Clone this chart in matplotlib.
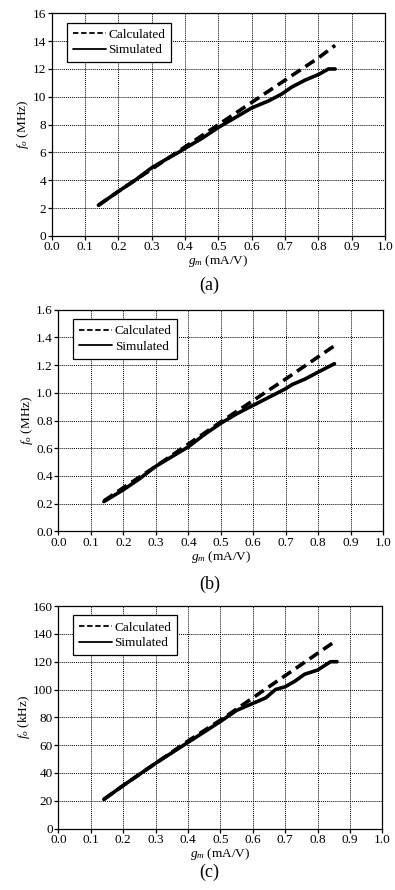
import matplotlib
matplotlib.use("Agg")
import matplotlib.pyplot as plt
from matplotlib.ticker import MultipleLocator, FormatStrFormatter

plt.rcParams['font.family'] = ['Liberation Serif', 'DejaVu Serif']
plt.rcParams['mathtext.fontset'] = 'custom'
plt.rcParams['mathtext.it'] = 'Liberation Serif:italic'
plt.rcParams['mathtext.rm'] = 'Liberation Serif'

# Panel (a)
a_calc_x = [0.14, 0.20, 0.30, 0.40, 0.50, 0.60, 0.70, 0.80, 0.85]
a_calc_y = [2.2, 3.2, 4.8, 6.4, 8.0, 9.6, 11.2, 12.8, 13.7]
a_sim_x = [0.14, 0.20, 0.25, 0.30, 0.35, 0.38, 0.40, 0.45, 0.50, 0.55, 0.60, 0.65, 0.69, 0.72, 0.76, 0.80, 0.83, 0.85]
a_sim_y = [2.2, 3.2, 4.0, 4.9, 5.6, 6.0, 6.3, 7.0, 7.8, 8.5, 9.2, 9.7, 10.2, 10.7, 11.2, 11.6, 12.0, 12.0]

# Panel (b)
b_calc_x = [0.14, 0.20, 0.30, 0.40, 0.50, 0.60, 0.70, 0.80, 0.85]
b_calc_y = [0.22, 0.315, 0.47, 0.63, 0.79, 0.945, 1.10, 1.26, 1.34]
b_sim_x = [0.14, 0.20, 0.25, 0.30, 0.35, 0.40, 0.45, 0.50, 0.55, 0.60, 0.65, 0.70, 0.72, 0.76, 0.80, 0.85]
b_sim_y = [0.215, 0.30, 0.38, 0.47, 0.54, 0.61, 0.70, 0.78, 0.85, 0.91, 0.97, 1.03, 1.06, 1.10, 1.15, 1.21]

# Panel (c)
c_calc_x = [0.14, 0.20, 0.30, 0.40, 0.50, 0.60, 0.70, 0.80, 0.85]
c_calc_y = [21, 31, 47, 63, 78, 94, 110, 126, 134]
c_sim_x = [0.14, 0.20, 0.30, 0.40, 0.50, 0.55, 0.60, 0.64, 0.67, 0.70, 0.73, 0.76, 0.80, 0.84, 0.86]
c_sim_y = [21, 31, 47, 62, 77, 85, 90, 94, 100, 102, 106, 111, 114, 120, 120]

x_ticks = [0.0, 0.1, 0.2, 0.3, 0.4, 0.5, 0.6, 0.7, 0.8, 0.9, 1.0]
legend_labels = ["Calculated", "Simulated"]
panel_labels = ["(a)", "(b)", "(c)"]
y_labels = [r"$f_o$ (MHz)", r"$f_o$ (MHz)", r"$f_o$ (kHz)"]

fig = plt.figure(figsize=(3.95, 8.9), dpi=100)

panels = [
    dict(rect=[0.131, 0.735, 0.844, 0.250], cx=a_calc_x, cy=a_calc_y, sx=a_sim_x, sy=a_sim_y,
         ylim=(0, 16), ystep=2, fmt='%d', lab_y=0.679),
    dict(rect=[0.148, 0.403, 0.822, 0.249], cx=b_calc_x, cy=b_calc_y, sx=b_sim_x, sy=b_sim_y,
         ylim=(0, 1.6), ystep=0.2, fmt='%.1f', lab_y=0.343),
    dict(rect=[0.148, 0.069, 0.820, 0.250], cx=c_calc_x, cy=c_calc_y, sx=c_sim_x, sy=c_sim_y,
         ylim=(0, 160), ystep=20, fmt='%d', lab_y=0.0195),
]

for i, p in enumerate(panels):
    ax = fig.add_axes(p['rect'])
    ax.plot(p['cx'], p['cy'], color='black', lw=2.6, ls=(0, (3.0, 1.6)), label=legend_labels[0])
    ax.plot(p['sx'], p['sy'], color='black', lw=2.6, ls='-', label=legend_labels[1],
            solid_capstyle='round')
    ax.set_xlim(0, 1.0)
    ax.set_ylim(*p['ylim'])
    ax.set_xticks(x_ticks)
    ax.xaxis.set_major_formatter(FormatStrFormatter('%.1f'))
    ax.yaxis.set_major_locator(MultipleLocator(p['ystep']))
    ax.yaxis.set_major_formatter(FormatStrFormatter(p['fmt']))
    ax.grid(True, color='black', ls=(0, (1, 1)), lw=0.7)
    ax.tick_params(direction='out', length=3, width=0.9, labelsize=9.5, pad=1)
    for s in ax.spines.values():
        s.set_linewidth(0.9)
    ax.set_xlabel(r"$g_m$ (mA/V)", fontsize=9.5, labelpad=0)
    ax.set_ylabel(y_labels[i], fontsize=9.5, labelpad=1)
    handles, labels = ax.get_legend_handles_labels()
    leg = ax.legend(handles, labels, loc='upper left', bbox_to_anchor=(0.045, 0.958),
                    fontsize=9.5, frameon=True, fancybox=False, framealpha=1,
                    edgecolor='black', handlelength=2.5, borderpad=0.45, labelspacing=0.25,
                    handletextpad=0.2, borderaxespad=0)
    leg.get_frame().set_linewidth(0.9)
    for ln in leg.get_lines():
        ln.set_linewidth(1.3)
    leg.get_lines()[0].set_linestyle((0, (3, 1.5)))
    fig.text(0.53, p['lab_y'], panel_labels[i], ha='center', va='center', fontsize=13)

fig.savefig("out.png", dpi=100)
